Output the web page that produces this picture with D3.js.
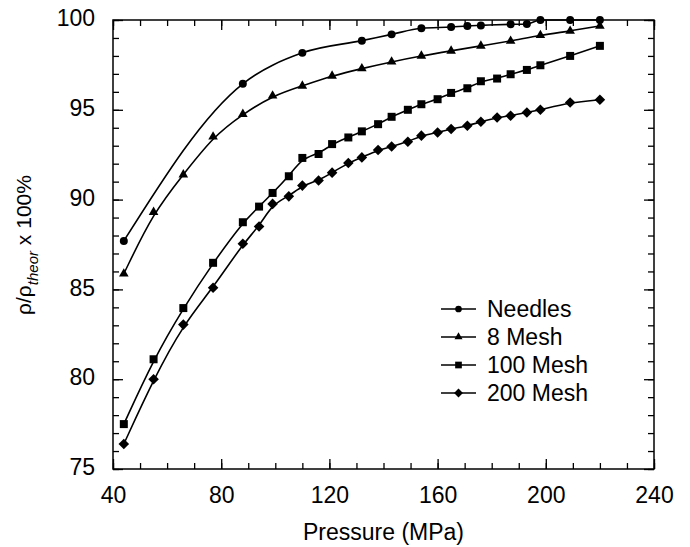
<!DOCTYPE html>
<html>
<head>
<meta charset="utf-8">
<script src="https://cdn.jsdelivr.net/npm/d3@7"></script>
<style>
  body { margin: 0; background: #fff; }
  svg text { font-family: "Liberation Sans", Arial, sans-serif; fill: #000; }
</style>
</head>
<body>
<div id="chart"></div>
<script>
// values
const seriesNames = ['Needles', '8 Mesh', '100 Mesh', '200 Mesh'];

const needlesX = [44, 88, 110, 132, 143, 154, 165, 171, 176, 187, 193, 198, 209, 220];
const needlesY = [87.7, 96.45, 98.17, 98.85, 99.2, 99.54, 99.61, 99.67, 99.7, 99.76, 99.78, 100, 100, 100];

const mesh8X = [44, 55, 66, 77, 88, 99, 110, 121, 132, 143, 154, 165, 176, 187, 198, 209, 220];
const mesh8Y = [85.87, 89.3, 91.39, 93.5, 94.76, 95.78, 96.33, 96.89, 97.3, 97.67, 98.0, 98.28, 98.56, 98.83, 99.15, 99.39, 99.67];

const mesh100X = [44, 55, 66, 77, 88, 94, 99, 105, 110, 116, 121, 127, 132, 138, 143, 149, 154, 160, 165, 171, 176, 182, 187, 193, 198, 209, 220];
const mesh100Y = [77.5, 81.11, 83.96, 86.48, 88.74, 89.61, 90.37, 91.3, 92.32, 92.54, 93.09, 93.46, 93.8, 94.2, 94.61, 95.0, 95.31, 95.59, 95.94, 96.2, 96.59, 96.74, 96.98, 97.22, 97.48, 98.0, 98.56];

const mesh200X = [44, 55, 66, 77, 88, 94, 99, 105, 110, 116, 121, 127, 132, 138, 143, 149, 154, 160, 165, 171, 176, 182, 187, 193, 198, 209, 220];
const mesh200Y = [76.39, 80.0, 83.04, 85.09, 87.54, 88.5, 89.76, 90.18, 90.78, 91.06, 91.5, 92.04, 92.35, 92.76, 92.96, 93.22, 93.56, 93.74, 93.93, 94.11, 94.33, 94.57, 94.67, 94.85, 95.0, 95.41, 95.56];

const xTicks = [40, 80, 120, 160, 200, 240];
const yTicks = [75, 80, 85, 90, 95, 100];

const w = 690, h = 547;
const pLeft = 113, pRight = 654, pTop = 20, pBottom = 469;

const svg = d3.select('#chart').append('svg')
  .attr('width', w)
  .attr('height', h);

const x = d3.scaleLinear().domain([40, 240]).range([pLeft, pRight]);
const y = d3.scaleLinear().domain([75, 100]).range([pBottom, pTop]);

const xMinor = d3.range(40, 241, 10);
const yMinor = d3.range(75, 100.5, 1);

// minor ticks, all four sides, pointing inward
svg.append('g').attr('transform', `translate(0,${pBottom})`)
  .call(d3.axisBottom(x).tickValues(xMinor).tickSize(-6).tickSizeOuter(0).tickFormat(''));
svg.append('g').attr('transform', `translate(0,${pTop})`)
  .call(d3.axisTop(x).tickValues(xMinor).tickSize(-6).tickSizeOuter(0).tickFormat(''));
svg.append('g').attr('transform', `translate(${pLeft},0)`)
  .call(d3.axisLeft(y).tickValues(yMinor).tickSize(-6).tickSizeOuter(0).tickFormat(''));
svg.append('g').attr('transform', `translate(${pRight},0)`)
  .call(d3.axisRight(y).tickValues(yMinor).tickSize(-6).tickSizeOuter(0).tickFormat(''));

// major ticks with labels
svg.append('g').attr('class', 'xaxis').attr('transform', `translate(0,${pBottom})`)
  .call(d3.axisBottom(x).tickValues(xTicks).tickSize(-10).tickSizeOuter(0).tickPadding(18));
svg.append('g').attr('transform', `translate(0,${pTop})`)
  .call(d3.axisTop(x).tickValues(xTicks).tickSize(-10).tickSizeOuter(0).tickFormat(''));
svg.append('g').attr('class', 'yaxis').attr('transform', `translate(${pLeft},0)`)
  .call(d3.axisLeft(y).tickValues(yTicks).tickSize(-10).tickSizeOuter(0).tickPadding(18));
svg.append('g').attr('transform', `translate(${pRight},0)`)
  .call(d3.axisRight(y).tickValues(yTicks).tickSize(-10).tickSizeOuter(0).tickFormat(''));

svg.selectAll('.domain').remove();
svg.selectAll('.tick line').attr('stroke', '#000').attr('stroke-width', 1.3);
svg.selectAll('.xaxis text, .yaxis text')
  .style('font-size', '23px')
  .style('font-family', '"Liberation Sans", Arial, sans-serif');
svg.selectAll('.yaxis text').attr('dy', '0.25em');

// frame
svg.append('rect')
  .attr('x', pLeft).attr('y', pTop)
  .attr('width', pRight - pLeft).attr('height', pBottom - pTop)
  .attr('fill', 'none').attr('stroke', '#000').attr('stroke-width', 1.5);

// series
const series = [
  { name: seriesNames[0], xs: needlesX, ys: needlesY, shape: 'circle', curve: d3.curveMonotoneX },
  { name: seriesNames[1], xs: mesh8X, ys: mesh8Y, shape: 'triangle', curve: d3.curveBasis },
  { name: seriesNames[2], xs: mesh100X, ys: mesh100Y, shape: 'square', curve: d3.curveBasis },
  { name: seriesNames[3], xs: mesh200X, ys: mesh200Y, shape: 'diamond', curve: d3.curveBasis }
];

function marker(shape, scale) {
  if (shape === 'circle') return { d: d3.symbol(d3.symbolCircle, 50 * scale)(), rot: 0 };
  if (shape === 'triangle') return { d: d3.symbol(d3.symbolTriangle, 40 * scale)(), rot: 0 };
  if (shape === 'square') return { d: d3.symbol(d3.symbolSquare, 64 * scale)(), rot: 0 };
  return { d: d3.symbol(d3.symbolSquare, 56 * scale)(), rot: 45 };
}

series.forEach(s => {
  const pts = s.xs.map((v, i) => [v, s.ys[i]]);
  const line = d3.line().x(d => x(d[0])).y(d => y(d[1])).curve(s.curve);

  svg.append('path')
    .datum(pts)
    .attr('d', line)
    .attr('fill', 'none')
    .attr('stroke', '#000')
    .attr('stroke-width', 1.6);

  const m = marker(s.shape, 1);
  svg.append('g').selectAll('path')
    .data(pts)
    .join('path')
    .attr('d', m.d)
    .attr('transform', d => `translate(${x(d[0])},${y(d[1])}) rotate(${m.rot})`)
    .attr('fill', '#000');
});

// legend
const legend = svg.append('g').attr('transform', 'translate(441,309)');
series.forEach((s, i) => {
  const g = legend.append('g').attr('transform', `translate(0,${i * 28})`);
  g.append('line').attr('x1', 0).attr('x2', 35).attr('y1', 0).attr('y2', 0)
    .attr('stroke', '#000').attr('stroke-width', 1.6);
  const m = marker(s.shape, 0.7);
  g.append('path').attr('d', m.d)
    .attr('transform', `translate(17.5,0) rotate(${m.rot})`)
    .attr('fill', '#000');
  g.append('text')
    .attr('x', 46).attr('y', 0).attr('dy', '0.36em')
    .style('font-size', '23px')
    .text(s.name);
});

// axis titles
svg.append('text')
  .attr('x', (pLeft + pRight) / 2).attr('y', 540)
  .attr('text-anchor', 'middle')
  .style('font-size', '23px')
  .text('Pressure (MPa)');

const yl = svg.append('text')
  .attr('transform', 'translate(31,245) rotate(-90)')
  .attr('text-anchor', 'middle')
  .style('font-size', '21px');
yl.append('tspan').text('ρ/ρ');
yl.append('tspan').attr('dy', 7).style('font-size', '15px').style('font-style', 'italic').text('theor');
yl.append('tspan').attr('dy', -7).text(' x 100%');
</script>
</body>
</html>
